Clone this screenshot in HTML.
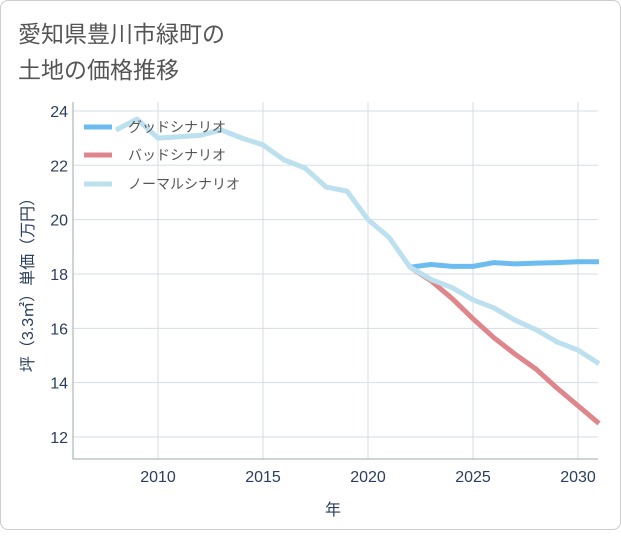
<!DOCTYPE html>
<html><head><meta charset="utf-8"><style>
body{margin:0;background:#fff;}
.card{position:absolute;left:0;top:0;width:619px;height:528px;border:1px solid #ccc;border-radius:8px;background:#fff;}
svg text{font-family:"Liberation Sans","Noto Sans CJK JP",sans-serif;}
</style></head><body>
<div class="card">
<svg width="621" height="530">
<text x="17" y="41" font-size="23" fill="#555">愛知県豊川市緑町の</text>
<text x="17" y="77" font-size="23" fill="#555">土地の価格推移</text>
<g id="grid"></g>
<g id="series"></g>
<g id="legend"></g>
<text x="332" y="514" font-size="16" fill="#2a3f5f" text-anchor="middle">年</text>
<text transform="translate(32,280) rotate(-90)" font-size="16" fill="#2a3f5f" text-anchor="middle">坪（3.3㎡）単価（万円）</text>
</svg></div>
<script>
const xTicks=[2010,2015,2020,2025,2030];
const yTicks=[12,14,16,18,20,22,24];
const normalYears=[2008,2009,2010,2011,2012,2013,2014,2015,2016,2017,2018,2019,2020,2021,2022,2023,2024,2025,2026,2027,2028,2029,2030,2031];
const normalVals=[23.3,23.7,23.0,23.05,23.1,23.3,23.0,22.75,22.2,21.9,21.2,21.05,20.0,19.35,18.25,17.8,17.5,17.05,16.75,16.3,15.95,15.5,15.2,14.7];
const goodYears=[2022,2023,2024,2025,2026,2027,2028,2029,2030,2031];
const goodVals=[18.25,18.35,18.28,18.28,18.42,18.37,18.4,18.42,18.45,18.45];
const badYears=[2022,2023,2024,2025,2026,2027,2028,2029,2030,2031];
const badVals=[18.25,17.75,17.1,16.35,15.65,15.05,14.5,13.8,13.15,12.5];
const NS='http://www.w3.org/2000/svg';
const L=72,R=597,T=101,B=458;
const xs=y=>157+(y-2010)*21;
const ys=v=>436-(v-12)*27.17;
function mk(tag,at,parent){const e=document.createElementNS(NS,tag);for(const k in at)e.setAttribute(k,at[k]);parent.appendChild(e);return e;}
const grid=document.getElementById('grid');
xTicks.forEach(t=>{
  const l=mk('line',{x1:xs(t),x2:xs(t),y1:T,y2:B,stroke:'#d5dde5','stroke-width':1},grid);
  
  
  const tx=mk('text',{x:xs(t),y:481,'font-size':16,fill:'#2a3f5f','text-anchor':'middle'},grid);tx.textContent=t;
  
  
});
yTicks.forEach(t=>{
  const l=mk('line',{x1:L,x2:R,y1:ys(t),y2:ys(t),stroke:'#d5dde5','stroke-width':1},grid);
  
  
  const tx=mk('text',{x:67,y:ys(t)+6,'font-size':16,fill:'#2a3f5f','text-anchor':'end'},grid);tx.textContent=t;
  
  
});
const ax=mk('path',{d:`M${L},${T}V${B}H${R}`,fill:'none',stroke:'#9aa','stroke-width':1},grid);


const ser=document.getElementById('series');
function line(ys_,vs,color,name){
  const d=ys_.map((y,i)=>(i?'L':'M')+xs(y)+','+ys(vs[i])).join('');
  const p=mk('path',{d:d,fill:'none',stroke:color,'stroke-width':5,'stroke-linejoin':'round'},ser);
  
  
}
line(goodYears,goodVals,'#6dbcf0','good-scenario-line');
line(badYears,badVals,'#de868c','bad-scenario-line');
line(normalYears,normalVals,'#bde0ee','normal-scenario-line');
const leg=document.getElementById('legend');
[['グッドシナリオ','#6dbcf0',126],['バッドシナリオ','#de868c',154],['ノーマルシナリオ','#bde0ee',183]].forEach(([t,c,y],i)=>{
  const g=mk('g',{},leg);
  
  
  mk('line',{x1:83,x2:111,y1:y,y2:y,stroke:c,'stroke-width':5},g);
  const tx=mk('text',{x:127,y:y+5,'font-size':14,fill:'#555'},g);tx.textContent=t;
});
</script>
</body></html>
